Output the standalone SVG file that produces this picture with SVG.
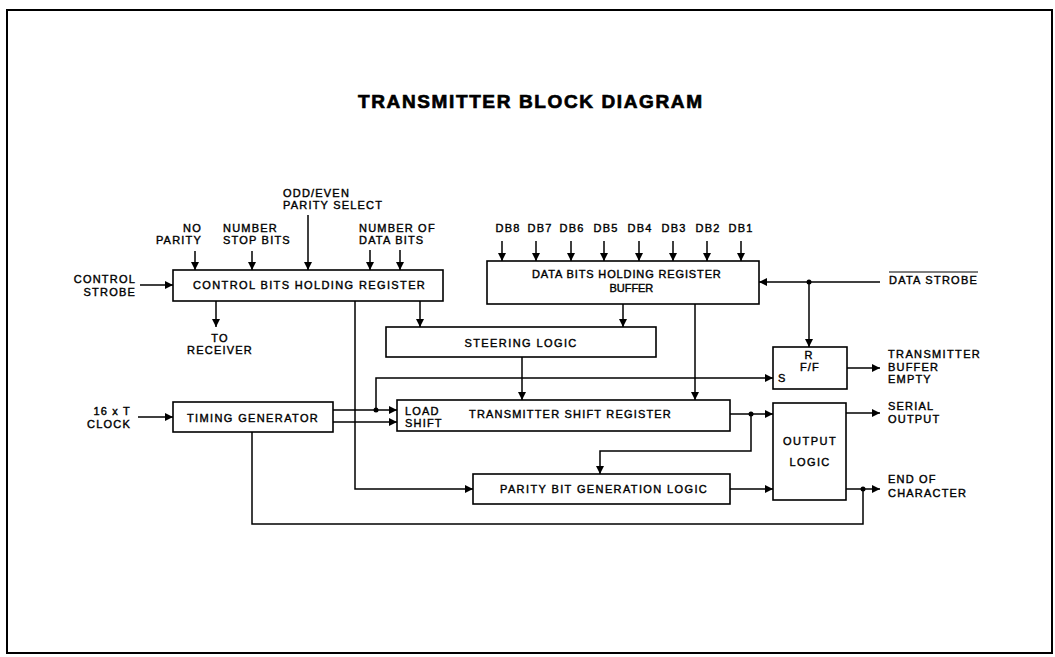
<svg xmlns="http://www.w3.org/2000/svg" width="1055" height="657" viewBox="0 0 1055 657">
<style>
text{font-family:"Liberation Sans",Arial,sans-serif;font-size:11px;fill:#000;stroke:#000;stroke-width:0.4;letter-spacing:1.2px}
.t{font-size:19px;font-weight:bold;stroke-width:0.7;letter-spacing:0}
.m{text-anchor:middle}
.e{text-anchor:end}
.box{fill:#fff;stroke:#000;stroke-width:1.6}
.w{fill:none;stroke:#000;stroke-width:1.5}
.a{marker-end:url(#ah)}
.dot{fill:#000}
</style>
<defs>
<marker id="ah" markerUnits="userSpaceOnUse" markerWidth="10" markerHeight="10" refX="8" refY="4.5" orient="auto">
<path d="M0,0.5 L8,4.5 L0,8.5 z" fill="#000"/>
</marker>
</defs>
<rect x="7" y="10" width="1045" height="643" fill="#fff" stroke="#000" stroke-width="2"/>
<text class="t" x="358" y="108" textLength="344" lengthAdjust="spacing">TRANSMITTER BLOCK DIAGRAM</text>

<g id="connectors">
<path class="w a" d="M140,285 H173"/>
<path class="w a" d="M195,251 V270"/>
<path class="w a" d="M252,251 V270"/>
<path class="w a" d="M308,215 V270"/>
<path class="w a" d="M370,250 V270"/>
<path class="w a" d="M400,250 V270"/>
<path class="w a" d="M216,301 V327"/>
<path class="w a" d="M420,301 V327"/>
<path class="w a" d="M355,301 V489 H473"/>
<path class="w a" d="M502,241 V261"/>
<path class="w a" d="M536,241 V261"/>
<path class="w a" d="M571,241 V261"/>
<path class="w a" d="M604,241 V261"/>
<path class="w a" d="M639,241 V261"/>
<path class="w a" d="M673,241 V261"/>
<path class="w a" d="M707,241 V261"/>
<path class="w a" d="M741,241 V261"/>
<path class="w a" d="M623,304 V327"/>
<path class="w a" d="M695,304 V400"/>
<path class="w a" d="M880,282 H759"/>
<path class="w a" d="M809,282 V347"/>
<circle class="dot" cx="809" cy="282" r="2.5"/>
<path class="w a" d="M847,368 H880"/>
<path class="w a" d="M522,357 V400"/>
<path class="w a" d="M138,417 H173"/>
<path class="w a" d="M333,410 H397"/>
<path class="w a" d="M376,410 V378 H773"/>
<circle class="dot" cx="376" cy="410" r="2.5"/>
<path class="w a" d="M333,422 H397"/>
<path class="w" d="M252,432 V524 H863 V489"/>
<circle class="dot" cx="863" cy="489" r="2.5"/>
<path class="w a" d="M730,414 H773"/>
<path class="w a" d="M751,414 V451 H600 V474"/>
<circle class="dot" cx="751" cy="414" r="2.5"/>
<path class="w a" d="M730,489 H773"/>
<path class="w a" d="M846,413 H880"/>
<path class="w a" d="M846,489 H880"/>
</g>

<g id="control-bits">
<rect class="box" x="173" y="270" width="270" height="31"/>
<text class="m" x="309.5" y="289" textLength="233" lengthAdjust="spacing">CONTROL BITS HOLDING REGISTER</text>
</g>
<g id="data-bits">
<rect class="box" x="487" y="261" width="272" height="43"/>
<text class="m" x="627" y="278" textLength="190" lengthAdjust="spacing">DATA BITS HOLDING REGISTER</text>
<text class="m" x="632" y="292" textLength="45" lengthAdjust="spacing">BUFFER</text>
</g>
<g id="steering">
<rect class="box" x="386" y="327" width="270" height="30"/>
<text class="m" x="521" y="347" textLength="113" lengthAdjust="spacing">STEERING LOGIC</text>
</g>
<g id="flipflop">
<rect class="box" x="773" y="347" width="74" height="42"/>
<text class="m" x="809" y="359">R</text>
<text class="m" x="810" y="371">F/F</text>
<text x="778" y="382">S</text>
</g>
<g id="timing">
<rect class="box" x="173" y="402" width="160" height="30"/>
<text class="m" x="253" y="422" textLength="132" lengthAdjust="spacing">TIMING GENERATOR</text>
</g>
<g id="shift-register">
<rect class="box" x="397" y="400" width="333" height="31"/>
<text x="405" y="415">LOAD</text>
<text x="405" y="427">SHIFT</text>
<text x="469" y="418" textLength="203" lengthAdjust="spacing">TRANSMITTER SHIFT REGISTER</text>
</g>
<g id="parity">
<rect class="box" x="473" y="474" width="257" height="30"/>
<text x="500" y="493" textLength="208" lengthAdjust="spacing">PARITY BIT GENERATION LOGIC</text>
</g>
<g id="output-logic">
<rect class="box" x="773" y="403" width="73" height="97"/>
<text class="m" x="810" y="445" textLength="54" lengthAdjust="spacing">OUTPUT</text>
<text class="m" x="810" y="466" textLength="41" lengthAdjust="spacing">LOGIC</text>
</g>

<g id="labels">
<text class="e" x="136" y="283">CONTROL</text>
<text class="e" x="136" y="296">STROBE</text>
<text class="e" x="202" y="232">NO</text>
<text class="e" x="202" y="244">PARITY</text>
<text x="223" y="232">NUMBER</text>
<text x="223" y="244">STOP BITS</text>
<text x="283" y="197">ODD/EVEN</text>
<text x="283" y="209">PARITY SELECT</text>
<text x="359" y="232">NUMBER OF</text>
<text x="359" y="244">DATA BITS</text>
<text class="m" x="220" y="342">TO</text>
<text class="m" x="220" y="354">RECEIVER</text>
<text class="e" x="131" y="415">16 x T</text>
<text class="e" x="131" y="428">CLOCK</text>
<text class="m" x="508" y="232">DB8</text>
<text class="m" x="540" y="232">DB7</text>
<text class="m" x="572" y="232">DB6</text>
<text class="m" x="606" y="232">DB5</text>
<text class="m" x="640" y="232">DB4</text>
<text class="m" x="674" y="232">DB3</text>
<text class="m" x="708" y="232">DB2</text>
<text class="m" x="741" y="232">DB1</text>
<text x="889" y="284" textLength="89" lengthAdjust="spacing">DATA STROBE</text>
<path d="M889,272 H978" stroke="#000" stroke-width="1.2"/>
<text x="888" y="358" textLength="93" lengthAdjust="spacing">TRANSMITTER</text>
<text x="888" y="371">BUFFER</text>
<text x="888" y="383">EMPTY</text>
<text x="888" y="410">SERIAL</text>
<text x="888" y="423">OUTPUT</text>
<text x="888" y="483">END OF</text>
<text x="888" y="497">CHARACTER</text>
</g>
</svg>
